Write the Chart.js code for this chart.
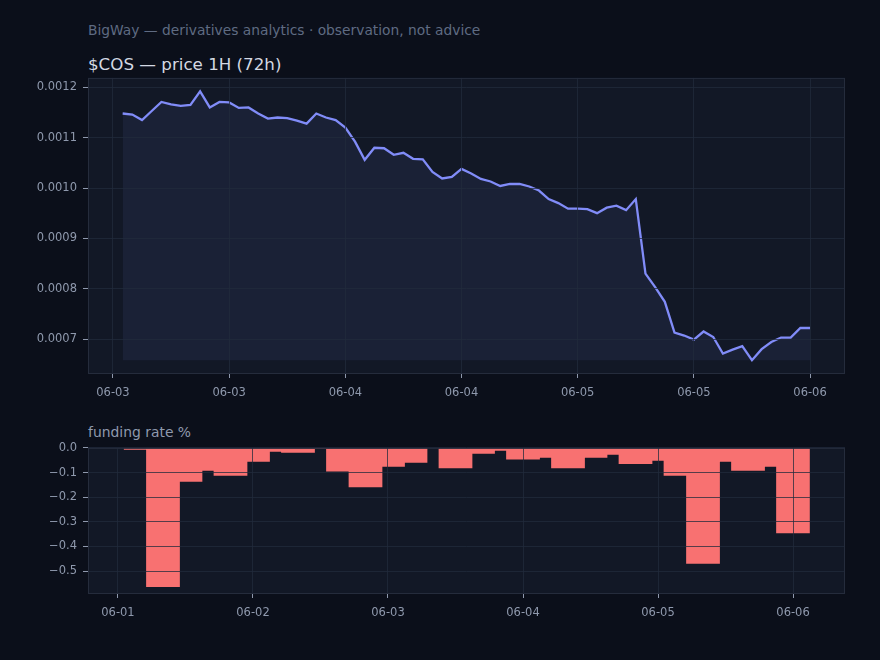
<!DOCTYPE html>
<html>
<head>
<meta charset="utf-8">
<script src="https://cdn.jsdelivr.net/npm/chart.js@4.4.1/dist/chart.umd.min.js"></script>
<style>
  html, body { margin: 0; padding: 0; background: #0b0f1a; }
  body { width: 880px; height: 660px; position: relative; overflow: hidden; font-family: 'DejaVu Sans', sans-serif; }
  .txt { position: absolute; white-space: nowrap; }
  #subtitle { left: 88px; top: 22px; font-size: 13.8px; color: #5f6b82; }
  #title { left: 88px; top: 54px; font-size: 16.7px; color: #d4d9e3; }
  #fundLabel { left: 88px; top: 424px; font-size: 13.9px; color: #8f99ad; }
  #priceWrap { position: absolute; left: 0; top: 65px; width: 880px; height: 337px; }
  #fundWrap { position: absolute; left: 0; top: 435px; width: 880px; height: 187px; }
</style>
</head>
<body>
<div class="txt" id="subtitle">BigWay — derivatives analytics · observation, not advice</div>
<div class="txt" id="title">$COS — price 1H (72h)</div>
<div class="txt" id="fundLabel">funding rate %</div>
<div id="priceWrap"><canvas id="priceChart"></canvas></div>
<div id="fundWrap"><canvas id="fundChart"></canvas></div>
<script>
// hourly closes, 06-03 01:00 -> 06-06 00:00
const prices = [
  0.001148, 0.001146, 0.001135, 0.001153, 0.001171, 0.001166, 0.001163, 0.001165,
  0.001192, 0.001160, 0.001171, 0.001170, 0.001159, 0.001160, 0.001148, 0.001138,
  0.001140, 0.001139, 0.001134, 0.001128, 0.001148, 0.001140, 0.001135, 0.001120,
  0.001092, 0.001056, 0.001080, 0.001079, 0.001066, 0.001070, 0.001058, 0.001057,
  0.001032, 0.001019, 0.001022, 0.001038, 0.001029, 0.001018, 0.001013, 0.001004,
  0.001008, 0.001008, 0.001003, 0.000995, 0.000978, 0.000970, 0.000959, 0.000959,
  0.000958, 0.000950, 0.000961, 0.000965, 0.000956, 0.000978, 0.000830, 0.000803,
  0.000774, 0.000713, 0.000707, 0.000699, 0.000715, 0.000704, 0.000671, 0.000679,
  0.000686, 0.000658, 0.000680, 0.000694, 0.000703, 0.000703, 0.000722, 0.000722
];
const priceTickHours = [0, 12, 24, 36, 48, 60, 72];
const priceTickLabels = ['06-03', '06-03', '06-04', '06-04', '06-05', '06-05', '06-06'];
const priceYTicks = [0.0007, 0.0008, 0.0009, 0.0010, 0.0011, 0.0012];

// funding periods: start hour after 06-01 00:00, each runs until the next start
const fundingStarts = [
  1, 5, 11, 15, 17, 23, 27, 29, 35, 37,
  41, 47, 51, 55, 57, 63, 67, 69, 75, 77,
  83, 87, 89, 95, 97, 101, 107, 109, 115, 117
];
const fundingEnd = 123;
const fundingRates = [
  -0.008, -0.565, -0.137, -0.093, -0.113, -0.056, -0.016, -0.020, -0.004, -0.096,
  -0.160, -0.077, -0.060, 0.000, -0.083, -0.024, -0.012, -0.047, -0.040, -0.083,
  -0.040, -0.028, -0.065, -0.052, -0.113, -0.470, -0.056, -0.093, -0.077, -0.347
];
const fundTickHours = [0, 24, 48, 72, 96, 120];
const fundTickLabels = ['06-01', '06-02', '06-03', '06-04', '06-05', '06-06'];
const fundYTicks = [0, -0.1, -0.2, -0.3, -0.4, -0.5];

const gridColor = 'rgba(34,43,60,0.75)';
const tickFont = { family: 'DejaVu Sans', size: 11.5 };
const tickColor = '#8f99ad';

// plot background + frame like the reference
const framePlugin = {
  id: 'frame',
  beforeDraw(chart) {
    const a = chart.chartArea;
    const ctx = chart.ctx;
    ctx.save();
    ctx.fillStyle = '#121826';
    ctx.fillRect(a.left, a.top, a.right - a.left, a.bottom - a.top);
    ctx.restore();
  },
  afterDraw(chart) {
    const a = chart.chartArea;
    const ctx = chart.ctx;
    ctx.save();
    ctx.strokeStyle = '#252c3c';
    ctx.lineWidth = 1;
    ctx.strokeRect(a.left + 0.5, a.top + 0.5, a.right - a.left - 1, a.bottom - a.top - 1);
    ctx.restore();
  }
};

function xAxis(min, max, hours, labels, height) {
  return {
    type: 'linear',
    min: min,
    max: max,
    offset: false,
    afterBuildTicks: function(s) { s.ticks = hours.map(function(h) { return { value: h }; }); },
    afterFit: function(s) { s.height = height; },
    ticks: {
      color: tickColor, font: tickFont, padding: 8, maxRotation: 0, autoSkip: false,
      callback: function(v, i) { return labels[i]; }
    },
    grid: { color: gridColor, tickColor: '#8f99ad', tickLength: 4, offset: false, z: 1 },
    border: { display: false }
  };
}

function yAxis(min, max, vals, fmt) {
  return {
    min: min,
    max: max,
    afterBuildTicks: function(s) { s.ticks = vals.map(function(v) { return { value: v }; }); },
    afterFit: function(s) { s.width = 88; },
    ticks: {
      color: tickColor, font: tickFont, padding: 6, autoSkip: false,
      callback: function(v) { return fmt(v); }
    },
    grid: { color: gridColor, tickColor: '#8f99ad', tickLength: 5, z: 1 },
    border: { display: false }
  };
}

new Chart(document.getElementById('priceChart'), {
  type: 'line',
  data: {
    datasets: [{
      data: prices.map(function(p, i) { return { x: i + 1, y: p }; }),
      borderColor: '#818cf8',
      borderWidth: 2.3,
      pointRadius: 0,
      tension: 0,
      fill: { value: Math.min.apply(null, prices) },
      backgroundColor: 'rgba(129,140,248,0.08)'
    }]
  },
  options: {
    responsive: true,
    maintainAspectRatio: false,
    animation: false,
    layout: { padding: { top: 4, right: 35, left: 0, bottom: 0 } },
    plugins: { legend: { display: false }, tooltip: { enabled: false } },
    scales: {
      x: xAxis(-2.58, 75.61, priceTickHours, priceTickLabels, 28),
      y: yAxis(0.0006306, 0.0012187, priceYTicks, function(v) { return v.toFixed(4); })
    }
  },
  plugins: [framePlugin]
});

// funding bars as a stepped area: each period filled from 0 to its rate
const fundingPoints = fundingStarts.map(function(h, i) { return { x: h, y: fundingRates[i] }; });
fundingPoints.push({ x: fundingEnd, y: fundingRates[fundingRates.length - 1] });

new Chart(document.getElementById('fundChart'), {
  type: 'line',
  data: {
    datasets: [{
      data: fundingPoints,
      stepped: 'before',
      borderWidth: 0,
      borderColor: 'rgba(0,0,0,0)',
      pointRadius: 0,
      fill: 'origin',
      backgroundColor: '#f87171'
    }]
  },
  options: {
    responsive: true,
    maintainAspectRatio: false,
    animation: false,
    layout: { padding: { top: 2, right: 35, left: 0, bottom: 0 } },
    plugins: { legend: { display: false }, tooltip: { enabled: false } },
    scales: {
      x: xAxis(-5.33, 129.24, fundTickHours, fundTickLabels, 28),
      y: yAxis(-0.5933, 0, fundYTicks, function(v) {
        return v === 0 ? '0.0' : '\u2212' + Math.abs(v).toFixed(1);
      })
    }
  },
  plugins: [framePlugin]
});
</script>
</body>
</html>
